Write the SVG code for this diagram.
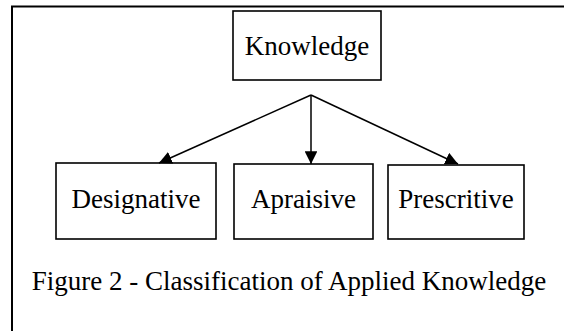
<svg xmlns="http://www.w3.org/2000/svg" width="564" height="331" viewBox="0 0 564 331">
<style>
.box{fill:#fff;stroke:#000;stroke-width:1.6}
.t{font-family:"Liberation Serif","Times New Roman",serif;font-size:27px;fill:#000;text-anchor:middle}
.c{stroke:#000;stroke-width:1.5;fill:none}
</style>
<defs>
<marker id="ah" viewBox="0 0 10 10" refX="10" refY="5" markerWidth="8.5" markerHeight="8.5" orient="auto" markerUnits="strokeWidth">
<path d="M0,0 L10,5 L0,10 z" fill="#000"/>
</marker>
</defs>
<rect width="564" height="331" fill="#fff"/>
<g id="frame"><path d="M12,331 L12,6.5 L564,6.5" fill="none" stroke="#000" stroke-width="2"/></g>
<g id="knowledge"><rect class="box" x="233" y="11" width="148" height="69"/><text class="t" x="307" y="55">Knowledge</text></g>
<g id="designative"><rect class="box" x="56" y="163" width="160" height="76"/><text class="t" x="136" y="208">Designative</text></g>
<g id="apraisive"><rect class="box" x="234" y="164" width="139" height="75"/><text class="t" x="303.5" y="208">Apraisive</text></g>
<g id="prescritive"><rect class="box" x="388" y="165" width="136" height="74"/><text class="t" x="456" y="208">Prescritive</text></g>
<g id="connectors">
<line class="c" x1="311" y1="95" x2="159" y2="163" marker-end="url(#ah)"/>
<line class="c" x1="311" y1="95" x2="311" y2="164" marker-end="url(#ah)"/>
<line class="c" x1="311" y1="95" x2="458" y2="164" marker-end="url(#ah)"/>
</g>
<g id="caption"><text class="t" x="289" y="290">Figure 2 - Classification of Applied Knowledge</text></g>
</svg>
